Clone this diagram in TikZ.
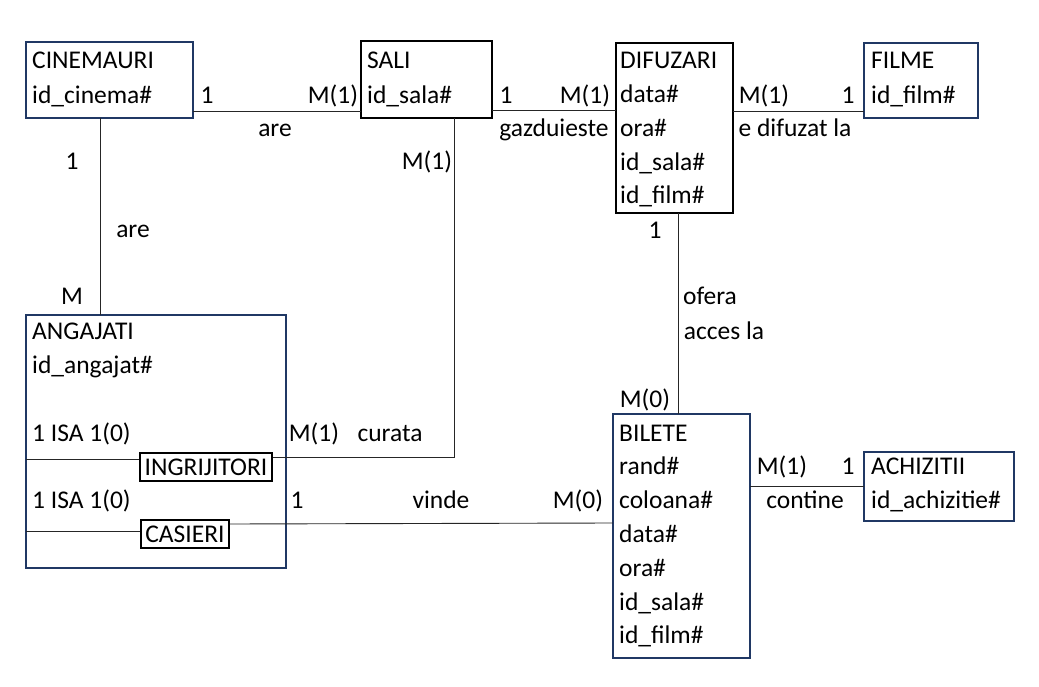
\documentclass[tikz,border=0pt]{standalone}
\usepackage{fontspec}
\setmainfont{Carlito}
\usetikzlibrary{positioning}
\definecolor{entblue}{RGB}{32,56,100}

\begin{document}
\begin{tikzpicture}[x=1pt,y=-1pt,
  entity/.style={draw=entblue,line width=1.6pt,rectangle,inner sep=0pt,outer sep=0pt,anchor=north west},
  strong/.style={entity,draw=black},
  txt/.style={inner sep=0pt,text height=16pt,text depth=0pt,font=\fontsize{25.5}{30}\selectfont},
  attr/.style={txt,anchor=west},
  sub/.style={txt,draw=black,line width=1.2pt,minimum height=28pt,inner xsep=1pt},
  rel/.style={draw=black!85,line width=0.9pt}]
  \useasboundingbox (0,0) rectangle (1039,687);

  % entities
  \node[entity,minimum width=167pt,minimum height=76pt] (cinemauri) at (26,42) {};
  \node[strong,minimum width=131pt,minimum height=77pt] (sali) at (361,41) {};
  \node[strong,minimum width=117pt,minimum height=170pt] (difuzari) at (616,43) {};
  \node[entity,minimum width=114pt,minimum height=75pt] (filme) at (864,43) {};
  \node[entity,minimum width=260pt,minimum height=253pt] (angajati) at (26,315) {};
  \node[entity,minimum width=137pt,minimum height=244pt] (bilete) at (613,414) {};
  \node[entity,minimum width=150pt,minimum height=69pt] (achizitii) at (864,452) {};

  \node[sub,minimum width=132pt] (ingrijitori) at (206,467) {INGRIJITORI};
  \node[sub,minimum width=88pt] (casieri) at (185,534) {CASIERI};

  % attributes
  \foreach \t [count=\i from 0] in {CINEMAURI,id\_cinema\#}
    \node[attr] (cin-\i) at ([xshift=6,yshift={-19-35*\i}]cinemauri.north west) {\t};
  \foreach \t [count=\i from 0] in {SALI,id\_sala\#}
    \node[attr] (sal-\i) at ([xshift=6,yshift={-20-35*\i}]sali.north west) {\t};
  \foreach \t [count=\i from 0] in {DIFUZARI,data\#,ora\#,id\_sala\#,id\_film\#}
    \node[attr] (dif-\i) at ([xshift=4,yshift={-18-33.75*\i}]difuzari.north west) {\t};
  \foreach \t [count=\i from 0] in {FILME,id\_film\#}
    \node[attr] (fil-\i) at ([xshift=7,yshift={-18-35*\i}]filme.north west) {\t};
  \foreach \t/\d in {ANGAJATI/16,id\_angajat\#/50,1 ISA 1(0)/118,1 ISA 1(0)/185}
    \node[attr] at ([xshift=6,yshift=-\d]angajati.north west) {\t};
  \foreach \t [count=\i from 0] in {BILETE,rand\#,coloana\#,data\#,ora\#,id\_sala\#,id\_film\#}
    \node[attr] (bil-\i) at ([xshift=6,yshift={-19-33.8*\i}]bilete.north west) {\t};
  \foreach \t [count=\i from 0] in {ACHIZITII,id\_achizitie\#}
    \node[attr] (ach-\i) at ([xshift=7,yshift={-14-34*\i}]achizitii.north west) {\t};

  % relations
  \draw[rel] ([yshift=-31]cinemauri.east) -- ([yshift=-31]cinemauri.east -| sali.west);
  \draw[rel] ([yshift=-31]sali.east) -- ([yshift=-31]sali.east -| difuzari.west);
  \draw[rel] ([yshift=-31]filme.west -| difuzari.east) -- ([yshift=-31]filme.west);
  \draw[rel] ([xshift=-9.5]cinemauri.south) -- ([xshift=-9.5]cinemauri.south |- angajati.north);
  \draw[rel] ([xshift=27.5]sali.south) |- ([yshift=10]ingrijitori.east);
  \draw[rel] ([yshift=8]ingrijitori.west) -- ([yshift=8]ingrijitori.west -| angajati.west);
  \draw[rel] ([yshift=3]casieri.west) -- ([yshift=3]casieri.west -| angajati.west);
  \draw[rel] ([yshift=10]casieri.east) -- ([yshift=13]bilete.west);
  \draw[rel] ([xshift=3.5]difuzari.south) -- ([xshift=3.5]difuzari.south |- bilete.north);
  \draw[rel] (achizitii.west -| bilete.east) -- (achizitii.west);

  % cardinalities and names
  \node[txt] (c1) at (207,96) {1};
  \node[txt] (c2) at (333,96) {M(1)};
  \node[txt] (r1) at (275,129) {are};
  \node[txt] (c3) at (506,96) {1};
  \node[txt] (c4) at (585,96) {M(1)};
  \node[txt] (r2) at (554,129) {gazduieste};
  \node[txt] (c5) at (764,96) {M(1)};
  \node[txt] (c6) at (848,96) {1};
  \node[txt] (r3) at (795,129) {e difuzat la};
  \node[txt] (c7) at (72,162) {1};
  \node[txt] (r4) at (133,230) {are};
  \node[txt] (c8) at (72,297) {M};
  \node[txt] (c9) at (427,162) {M(1)};
  \node[txt] (c10) at (314,433) {M(1)};
  \node[txt] (r5) at (390,433) {curata};
  \node[txt] (c11) at (297,500) {1};
  \node[txt] (r6) at (441,500) {vinde};
  \node[txt] (c12) at (578,500) {M(0)};
  \node[txt] (c13) at (655,231) {1};
  \node[txt] (r7) at (710,297) {ofera};
  \node[txt] (r8) at (724,331) {acces la};
  \node[txt] (c14) at (645,399) {M(0)};
  \node[txt] (c15) at (782,466) {M(1)};
  \node[txt] (c16) at (848,466) {1};
  \node[txt] (r9) at (805,500) {contine};
\end{tikzpicture}
\end{document}
